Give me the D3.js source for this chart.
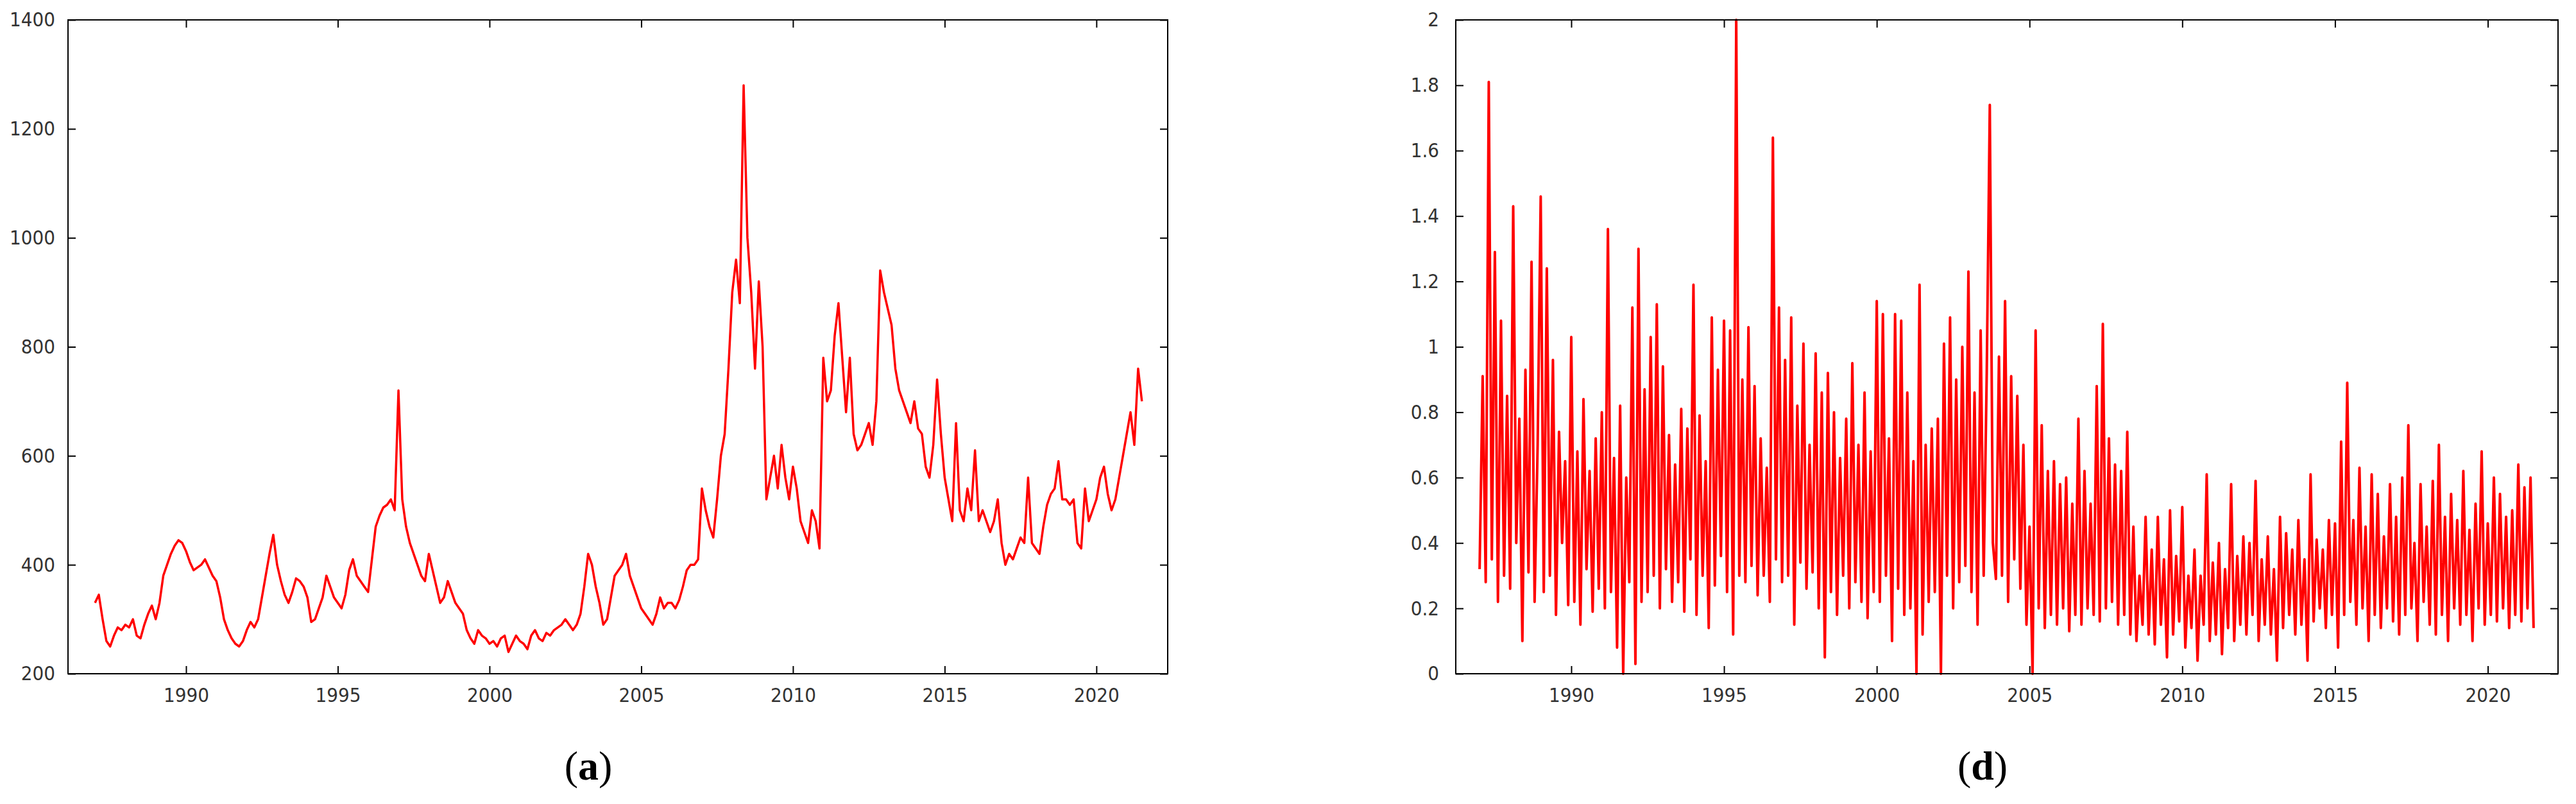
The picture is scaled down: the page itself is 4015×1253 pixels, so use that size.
<!DOCTYPE html>
<html><head><meta charset="utf-8">
<script src="https://cdn.jsdelivr.net/npm/d3@7"></script>
<style>body{margin:0;background:#fff}</style>
</head><body>
<svg id="chart" width="4015" height="1253"></svg>
<script>
// panel (a): 8 readings per year starting 1987.0
var priceStart = 1987.0, priceStep = 1/8;
var priceValues = [
330,345,300,260,250,270,285,280,
290,285,300,270,265,290,310,325,
300,330,380,400,420,435,445,440,
425,405,390,395,400,410,395,380,
370,340,300,280,265,255,250,260,
280,295,285,300,340,380,420,455,
400,370,345,330,350,375,370,360,
340,295,300,320,340,380,360,340,
330,320,345,390,410,380,370,360,
350,410,470,490,505,510,520,500,
720,520,470,440,420,400,380,370,
420,390,360,330,340,370,350,330,
320,310,280,265,255,280,270,265,
255,260,250,265,270,240,255,270,
260,255,245,270,280,265,260,275,
270,280,285,290,300,290,280,290,
310,360,420,400,360,330,290,300,
340,380,390,400,420,380,360,340,
320,310,300,290,310,340,320,330,
330,320,335,360,390,400,400,410,
540,500,470,450,520,600,640,760,
900,960,880,1280,1000,900,760,920,
800,520,560,600,540,620,560,520,
580,540,480,460,440,500,480,430,
780,700,720,820,880,780,680,780,
640,610,620,640,660,620,700,940,
900,870,840,760,720,700,680,660,
700,650,640,580,560,620,740,640,
560,520,480,660,500,480,540,500,
610,480,500,480,460,480,520,440,
400,420,410,430,450,440,560,440,
430,420,470,510,530,540,590,520,
520,510,520,440,430,540,480,500,
520,560,580,530,500,520,560,600,
640,680,620,760,700
];
var priceTicks = [200,400,600,800,1000,1200,1400];

// panel (d): 10 readings per year starting 1987.0
var volStart = 1987.0, volStep = 1/10;
var volValues = [
0.32,0.91,0.28,1.81,0.35,1.29,0.22,1.08,0.30,0.85,
0.26,1.43,0.40,0.78,0.10,0.93,0.31,1.26,0.22,0.70,
1.46,0.25,1.24,0.30,0.96,0.18,0.74,0.40,0.65,0.21,
1.03,0.22,0.68,0.15,0.84,0.32,0.62,0.19,0.72,0.26,
0.80,0.20,1.36,0.25,0.66,0.08,0.82,0.00,0.60,0.28,
1.12,0.03,1.30,0.22,0.87,0.25,1.03,0.30,1.13,0.20,
0.94,0.32,0.73,0.22,0.64,0.28,0.81,0.19,0.75,0.35,
1.19,0.18,0.79,0.30,0.65,0.14,1.09,0.27,0.93,0.36,
1.08,0.25,1.05,0.12,2.00,0.30,0.90,0.28,1.06,0.33,
0.88,0.24,0.72,0.30,0.63,0.22,1.64,0.35,1.12,0.28,
0.96,0.30,1.09,0.15,0.82,0.34,1.01,0.26,0.70,0.31,
0.98,0.20,0.86,0.05,0.92,0.25,0.80,0.18,0.66,0.30,
0.78,0.20,0.95,0.28,0.70,0.22,0.86,0.17,0.68,0.25,
1.14,0.22,1.10,0.30,0.72,0.10,1.10,0.26,1.08,0.18,
0.86,0.20,0.65,0.00,1.19,0.12,0.70,0.22,0.75,0.25,
0.78,0.00,1.01,0.30,1.09,0.20,0.90,0.28,1.00,0.33,
1.23,0.25,0.86,0.15,1.05,0.30,0.92,1.74,0.40,0.29,
0.97,0.30,1.14,0.22,0.91,0.35,0.85,0.26,0.70,0.15,
0.45,0.00,1.05,0.20,0.76,0.14,0.62,0.18,0.65,0.15,
0.58,0.20,0.60,0.13,0.52,0.18,0.78,0.15,0.62,0.20,
0.52,0.18,0.88,0.16,1.07,0.20,0.72,0.22,0.64,0.15,
0.62,0.18,0.74,0.12,0.45,0.10,0.30,0.15,0.48,0.12,
0.38,0.09,0.48,0.15,0.35,0.05,0.50,0.12,0.36,0.16,
0.51,0.08,0.30,0.14,0.38,0.04,0.30,0.15,0.61,0.10,
0.34,0.12,0.40,0.06,0.32,0.14,0.58,0.10,0.36,0.15,
0.42,0.12,0.40,0.18,0.59,0.10,0.35,0.15,0.42,0.12,
0.32,0.04,0.48,0.14,0.43,0.18,0.38,0.12,0.47,0.15,
0.35,0.04,0.61,0.16,0.41,0.20,0.38,0.14,0.47,0.18,
0.46,0.08,0.71,0.18,0.89,0.22,0.47,0.15,0.63,0.20,
0.45,0.10,0.61,0.18,0.55,0.14,0.42,0.20,0.58,0.16,
0.48,0.12,0.60,0.18,0.76,0.20,0.40,0.10,0.58,0.22,
0.45,0.15,0.59,0.12,0.70,0.18,0.48,0.10,0.55,0.20,
0.47,0.15,0.62,0.18,0.44,0.10,0.52,0.20,0.68,0.15,
0.46,0.18,0.60,0.16,0.55,0.20,0.48,0.14,0.50,0.18,
0.64,0.16,0.57,0.20,0.60,0.14
];
var volTicks = [0,0.2,0.4,0.6,0.8,1,1.2,1.4,1.6,1.8,2];
var yearTicks = [1990,1995,2000,2005,2010,2015,2020];

var svg = d3.select("#chart");

function panel(opt) {
  var x = d3.scaleLinear().domain(opt.xdom).range([opt.left, opt.right]);
  var y = d3.scaleLinear().domain(opt.ydom).range([opt.bottom, opt.top]);
  var g = svg.append("g");
  var data = opt.values.map(function(v, i) { return [opt.start + i*opt.step, v]; });

  var line = d3.line().x(function(d){ return x(d[0]); }).y(function(d){ return y(d[1]); });
  g.append("path").datum(data).attr("d", line)
    .attr("fill", "none").attr("stroke", "#ff0000").attr("stroke-width", opt.sw)
    .attr("stroke-linejoin", "round");

  var tk = 12;
  var axisStyle = function(a) {
    a.select(".domain").remove();
    a.selectAll("text").attr("font-family", "DejaVu Sans Condensed, DejaVu Sans")
      .attr("font-size", 31).attr("fill", "#333");
    a.selectAll("line").attr("stroke", "#000").attr("stroke-width", 2);
  };
  g.append("g").attr("transform", "translate(0," + opt.bottom + ")")
    .call(d3.axisBottom(x).tickValues(yearTicks).tickFormat(d3.format("d")).tickSize(-tk).tickPadding(22))
    .call(axisStyle);
  g.append("g").attr("transform", "translate(0," + opt.top + ")")
    .call(d3.axisTop(x).tickValues(yearTicks).tickFormat("").tickSize(-tk))
    .call(axisStyle);
  g.append("g").attr("transform", "translate(" + opt.left + ",0)")
    .call(d3.axisLeft(y).tickValues(opt.yticks).tickFormat(opt.yfmt).tickSize(-tk).tickPadding(opt.ypad))
    .call(axisStyle);
  g.append("g").attr("transform", "translate(" + opt.right + ",0)")
    .call(d3.axisRight(y).tickValues(opt.yticks).tickFormat("").tickSize(-tk))
    .call(axisStyle);

  g.append("rect").attr("x", opt.left).attr("y", opt.top)
    .attr("width", opt.right - opt.left).attr("height", opt.bottom - opt.top)
    .attr("fill", "none").attr("stroke", "#000").attr("stroke-width", 2);

  var lab = g.append("text").attr("x", opt.labelX).attr("y", 1215)
    .attr("text-anchor", "middle").attr("font-family", "Liberation Serif, serif")
    .attr("font-size", 64);
  lab.append("tspan").text("(");
  lab.append("tspan").attr("font-weight", "bold").text(opt.label);
  lab.append("tspan").text(")");
}

panel({left: 106, right: 1820, top: 31, bottom: 1050,
  xdom: [1986.11, 2022.35], ydom: [200, 1400], yticks: priceTicks, yfmt: d3.format("d"), ypad: 20,
  values: priceValues, start: priceStart, step: priceStep, label: "a", labelX: 917, sw: 3.5});

panel({left: 2269, right: 3987, top: 31, bottom: 1050,
  xdom: [1986.22, 2022.3], ydom: [0, 2], yticks: volTicks, yfmt: function(d){ return String(d); }, ypad: 26,
  values: volValues, start: volStart, step: volStep, label: "d", labelX: 3090, sw: 4});
</script>
</body></html>
